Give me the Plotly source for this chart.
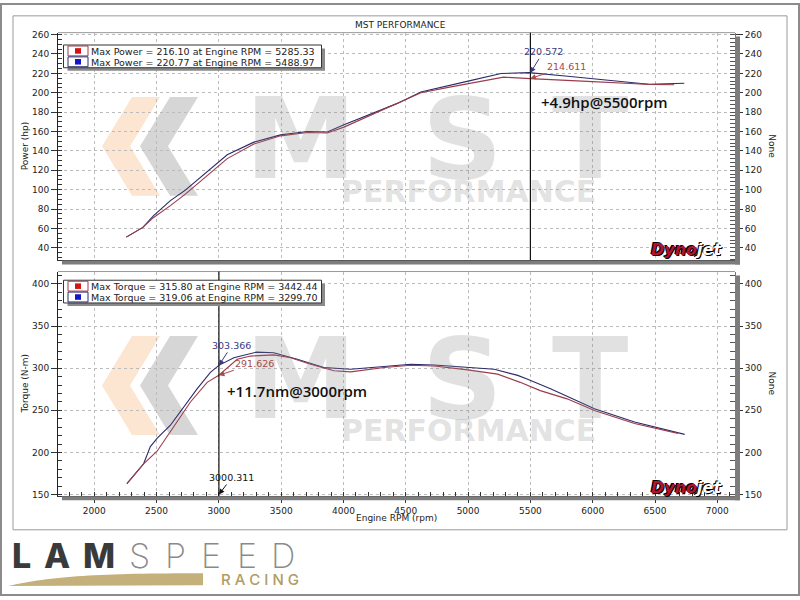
import plotly.graph_objects as go

# ---- power run (hp) ----
rpm_pwr_red = [2257, 2390, 2474, 2611, 2731, 2906, 3067, 3281, 3495, 3710, 3870, 4004,
               4192, 4433, 4621, 4862, 5000, 5285, 5500, 5800, 6000, 6300, 6450, 6654]
pwr_red = [51, 61, 71, 83.5, 95.4, 115, 132, 147, 155.5, 159, 158.5, 164.5,
           175.5, 189, 200, 206, 209.5, 216.1, 214.6, 213, 211.5, 209.5, 208.6, 208.2]
rpm_pwr_blue = [2257, 2390, 2474, 2611, 2731, 2906, 3067, 3281, 3495, 3710, 3870, 4004,
                4192, 4433, 4621, 4862, 5000, 5264, 5489, 5800, 6050, 6330, 6450, 6735]
pwr_blue = [51, 61, 73, 88.6, 99.5, 119, 136, 149, 156.5, 160, 159.5, 167,
            177, 189, 200.8, 208.3, 212, 219.8, 220.77, 217, 214, 210.5, 208.8, 209.8]

# ---- torque run (N-m) ----
rpm_trq_red = [2262, 2396, 2504, 2665, 2772, 2906, 3000, 3147, 3254, 3442, 3576, 3736, 3924,
               4058, 4326, 4540, 4728, 4996, 5237, 5418, 5579, 5794, 6014, 6336, 6684]
trq_red = [163, 186.5, 201.4, 236.5, 259.9, 283.2, 291.6, 310.6, 314.4, 315.8, 312.5, 304.7, 296.9,
           295.7, 300.8, 303.5, 302.7, 298, 293, 283.2, 273.4, 263.6, 249.9, 234.3, 222.6]
rpm_trq_blue = [2262, 2396, 2450, 2504, 2611, 2718, 2825, 2932, 3000, 3120, 3300, 3441, 3629,
                3843, 4058, 4326, 4540, 4728, 4996, 5210, 5398, 5478, 5666, 6014, 6336, 6738]
trq_blue = [163, 186.5, 207, 216.7, 232.3, 254, 275.4, 295, 303.4, 312.5, 319.06, 318.4, 310.6,
            300.8, 298.8, 302, 304.7, 303.9, 300.8, 298.8, 291.5, 287, 275.4, 251.9, 236.2, 221.4]

legend_power = ["Max Power = 216.10 at Engine RPM = 5285.33",
                "Max Power = 220.77 at Engine RPM = 5488.97"]
legend_torque = ["Max Torque = 315.80 at Engine RPM = 3442.44",
                 "Max Torque = 319.06 at Engine RPM = 3299.70"]

cursor_pwr_rpm = 5500
cursor_pwr_red, cursor_pwr_blue = 214.611, 220.572
cursor_trq_rpm = 3000.311
cursor_trq_red, cursor_trq_blue = 291.626, 303.366
cursor_trq_floor = 150

gain_power = "+4.9hp@5500rpm"
gain_torque = "+11.7nm@3000rpm"

rpm_ticks = [2000, 2500, 3000, 3500, 4000, 4500, 5000, 5500, 6000, 6500, 7000]
pwr_ticks = [40, 60, 80, 100, 120, 140, 160, 180, 200, 220, 240, 260]
trq_ticks = [150, 200, 250, 300, 350, 400]

RED = "#9b3b4b"
BLUE = "#2b2b6b"
FONT = "DejaVu Sans"
W, H = 800, 600


def px(x):
    return x / W


def py(y):
    return 1 - y / H


fig = go.Figure()
# red runs sit on the right-hand axes (same scale) so those axes get drawn
fig.add_scatter(x=rpm_pwr_blue, y=pwr_blue, mode="lines", line=dict(color=BLUE, width=1.1),
                xaxis="x", yaxis="y")
fig.add_scatter(x=rpm_pwr_red, y=pwr_red, mode="lines", line=dict(color=RED, width=1.1),
                xaxis="x", yaxis="y3")
fig.add_scatter(x=rpm_trq_blue, y=trq_blue, mode="lines", line=dict(color=BLUE, width=1.1),
                xaxis="x2", yaxis="y2")
fig.add_scatter(x=rpm_trq_red, y=trq_red, mode="lines", line=dict(color=RED, width=1.1),
                xaxis="x2", yaxis="y4")

x_dom = [px(58), px(735)]
x_rng = [1709, 7142]
top_dom = [py(260), py(30)]
bot_dom = [py(498.7), py(271.7)]
pwr_rng = [27.4, 262]
trq_rng = [148.4, 414.8]

grid = dict(showgrid=True, gridcolor="#bcbcbc", griddash="3px,3px", gridwidth=1, zeroline=False)
tickfont = dict(family=FONT, size=9, color="#222")

left_y = dict(ticks="outside", ticklen=6, tickcolor="#333", showline=True, linecolor="#222",
              linewidth=1, tickfont=tickfont, **grid)
right_y = dict(side="right", ticks="outside", ticklen=7, tickcolor="#333", showline=True,
               linecolor="#777", showgrid=False, zeroline=False, tickfont=tickfont)

fig.update_layout(
    width=W, height=H, margin=dict(l=0, r=0, t=0, b=0),
    paper_bgcolor="white", plot_bgcolor="white", showlegend=False,
    xaxis=dict(domain=x_dom, range=x_rng, anchor="y", tickvals=rpm_ticks, showticklabels=False,
               ticks="", showline=True, linecolor="#333", **grid),
    yaxis=dict(domain=top_dom, range=pwr_rng, anchor="x", tickvals=pwr_ticks,
               minor=dict(ticks="inside", ticklen=4, dtick=5, tickcolor="#333"), **left_y),
    yaxis3=dict(overlaying="y", anchor="x", range=pwr_rng, tickvals=pwr_ticks,
                minor=dict(ticks="inside", ticklen=5, dtick=4, tickcolor="#555"), **right_y),
    xaxis2=dict(domain=x_dom, range=x_rng, anchor="y2", tickvals=rpm_ticks, ticks="outside",
                ticklen=6, tickcolor="#333", showline=True, linecolor="#333", tickfont=tickfont,
                minor=dict(ticks="inside", ticklen=4, dtick=100, tickcolor="#333"), **grid),
    yaxis2=dict(domain=bot_dom, range=trq_rng, anchor="x2", tickvals=trq_ticks,
                minor=dict(ticks="inside", ticklen=4, dtick=10, tickcolor="#333"), **left_y),
    yaxis4=dict(overlaying="y2", anchor="x2", range=trq_rng, tickvals=trq_ticks,
                minor=dict(ticks="inside", ticklen=5, dtick=10, tickcolor="#555"), **right_y),
)


def paper_rect(x0, y0, x1, y1, **kw):
    fig.add_shape(type="rect", xref="paper", yref="paper",
                  x0=px(x0), x1=px(x1), y0=py(y1), y1=py(y0), **kw)


def paper_text(x, y, text, size=9, color="#222", family=FONT, angle=0, anchor="center", **kw):
    fig.add_annotation(xref="paper", yref="paper", x=px(x), y=py(y), text=text, showarrow=False,
                       textangle=angle, xanchor=anchor, yanchor="middle",
                       font=dict(family=family, size=size, color=color, **kw))


# frames
paper_rect(1, 1, 799, 599, line=dict(color="#8c8c8c", width=2))
paper_rect(13, 13, 787, 533, line=dict(color="#9a9a9a", width=1))

# watermark (chevrons under the traces)
for off in (0, 242):
    for (a, col) in ((0, "rgba(245,160,90,0.28)"), (38, "rgba(120,120,120,0.30)")):
        pts = [(132 + a, 95), (102 + a, 145), (132 + a, 195), (160 + a, 195), (130 + a, 145), (160 + a, 95)]
        path = "M " + " L ".join(f"{px(x)},{py(y + off)}" for x, y in pts) + " Z"
        fig.add_shape(type="path", xref="paper", yref="paper", path=path, fillcolor=col,
                      line_width=0, layer="below")
    for letter, cx in (("M", 300), ("S", 462), ("T", 590)):
        paper_text(cx, 138 + off, letter, size=112, color="rgba(130,130,130,0.24)", weight="bold")
    paper_text(468, 191 + off, "PERFORMANCE", size=30, color="rgba(130,130,130,0.24)", weight="bold")

# axis shadow bars
for top, bottom in ((30, 260.5), (271.7, 499)):
    paper_rect(62, bottom, 740, bottom + 4, fillcolor="#7d7d7d", line_width=0)
    paper_rect(735, top + 4, 740, bottom + 4, fillcolor="#7d7d7d", line_width=0)
    fig.add_shape(type="line", xref="paper", yref="paper", x0=px(58), x1=px(735),
                  y0=py(top), y1=py(top), line=dict(color="#999", width=1))

# cursor lines
fig.add_shape(type="line", xref="x", yref="y domain", x0=cursor_pwr_rpm, x1=cursor_pwr_rpm,
              y0=0, y1=1, line=dict(color="#111", width=1.2))
fig.add_shape(type="line", xref="x2", yref="y2 domain", x0=cursor_trq_rpm, x1=cursor_trq_rpm,
              y0=0, y1=1, line=dict(color="#111", width=1.2))

# legend boxes
for top, labels in ((42.5, legend_power), (280.5, legend_torque)):
    paper_rect(67.5, top + 3.5, 325, top + 26, fillcolor="#8a8a8a", line_width=0)
    paper_rect(63.5, top, 321.5, top + 23, fillcolor="white", line=dict(color="#333", width=1))
    for i, (label, col, mk) in enumerate(zip(labels, (RED, BLUE), ("#d41414", "#1414c8"))):
        r0 = top + 1 + i * 11
        paper_rect(68, r0, 88, r0 + 10, fillcolor="white", line=dict(color=col, width=1))
        paper_rect(75, r0 + 2.2, 81, r0 + 7.8, fillcolor=mk, line_width=0)
        paper_text(89, r0 + 5.2, label, size=9.5, anchor="left")


# cursor value callouts
def callout(xr, yr, x, y, text, color, ax, ay):
    fig.add_annotation(xref=xr, yref=yr, x=x, y=y, text=text, showarrow=True, ax=ax, ay=ay,
                       arrowhead=2, arrowsize=1.1, arrowwidth=1, arrowcolor=color,
                       font=dict(family=FONT, size=9.5, color=color))


callout("x", "y", cursor_pwr_rpm, cursor_pwr_blue, f"{cursor_pwr_blue:.3f}", "#3b3b7e", 13, -21)
callout("x", "y", cursor_pwr_rpm, cursor_pwr_red, f"{cursor_pwr_red:.3f}", "#a84a4a", 36, -12)
callout("x2", "y2", cursor_trq_rpm, cursor_trq_blue, f"{cursor_trq_blue:.3f}", "#3b3b7e", 13, -20)
callout("x2", "y2", cursor_trq_rpm, cursor_trq_red, f"{cursor_trq_red:.3f}", "#a84a4a", 36, -12)
callout("x2", "y2", cursor_trq_rpm, cursor_trq_floor, f"{cursor_trq_rpm:.3f}", "#111", 13, -17)

fig.add_annotation(xref="x", yref="y", x=5570, y=190.5, text=gain_power, showarrow=False,
                   xanchor="left", font=dict(family="Open Sans", size=15, color="#111", weight=600))
fig.add_annotation(xref="x2", yref="y2", x=3052, y=273, text=gain_torque, showarrow=False,
                   xanchor="left", font=dict(family="Open Sans", size=15, color="#111", weight=600))

# titles
paper_text(400, 22, "MST PERFORMANCE", size=9)
paper_text(25, 145, "Power (hp)", size=9, angle=-90)
paper_text(25, 385, "Torque (N-m)", size=9, angle=-90)
paper_text(772, 145, "None", size=9, angle=90)
paper_text(772, 385, "None", size=9, angle=90)
paper_text(396, 521, "Engine RPM (rpm)", size=9)

# dynojet badges
for y in (249, 490):
    paper_text(686, y, "<span style='color:#b5122e'>Dyno</span><span style='color:#ffffff'>jet</span>",
               size=16, weight="bold", style="italic", shadow="1px 1px 0 #000, -1px -1px 0 #000")

# LAMSPEED RACING logo
for letter, cx in (("L", 21), ("A", 57), ("M", 99)):
    paper_text(cx, 559, letter, size=34, color="#3a3a3a", family="Inter", weight=800)
for letter, cx in (("S", 139), ("P", 175), ("E", 211), ("E", 247), ("D", 283)):
    paper_text(cx, 559, letter, size=34, color="#8a8a8a", family="Inter", weight=200)
paper_text(301, 583, "R A C I N G", size=15, color="#b09c62", family="Inter", weight=500, anchor="right")
swoosh = (f"M {px(8)},{py(590)} C {px(50)},{py(580)} {px(100)},{py(577)} {px(203)},{py(577)} "
          f"L {px(203)},{py(589)} L {px(8)},{py(590)} Z")
fig.add_shape(type="path", xref="paper", yref="paper", path=swoosh, fillcolor="#c4b07a", line_width=0)

# the page's default 8px body margin would push the 800x600 figure off the window
fig.write_html("out.html", config={"displayModeBar": False},
               post_script="document.body.style.margin='0';")
